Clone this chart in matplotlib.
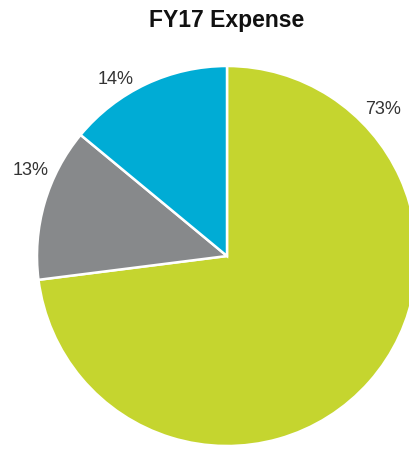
import numpy as np
import matplotlib
matplotlib.use("Agg")
import matplotlib.pyplot as plt

# data
categories = ["Program", "Management", "Fundraising"]
shares = [73, 13, 14]
labels = ["73%", "13%", "14%"]
colors = ["#C5D52F", "#87898B", "#00ACD5"]

# label spots as (angle deg, distance in radii) - hand placed like the original
label_spots = [(43.2, 1.13), (156.4, 1.13), (122.3, 1.10)]

plt.rcParams["font.family"] = ["Liberation Sans", "DejaVu Sans"]

W, H = 409, 450
fig = plt.figure(figsize=(W / 100, H / 100), dpi=100)
ax = fig.add_axes([0, 0, 1, 1])

# pie center and radius in pixels
cx, cy, r = 227, 256, 190

ax.pie(shares, colors=colors, startangle=90, counterclock=False,
       wedgeprops=dict(edgecolor="white", linewidth=1.8))

ax.set_xlim(-cx / r, (W - cx) / r)
ax.set_ylim(-(H - cy) / r, cy / r)
ax.set_aspect("equal")
ax.axis("off")

for lab, (ang, dist) in zip(labels, label_spots):
    a = np.deg2rad(ang)
    ax.text(dist * np.cos(a), dist * np.sin(a), lab, ha="center", va="center",
            fontsize=13, color="#333333")

fig.text(cx / W, 1 - 21 / H, "FY17 Expense", ha="center", va="center",
         fontsize=16.5, fontweight="bold", color="#111111")

fig.savefig("out.png", dpi=100)
